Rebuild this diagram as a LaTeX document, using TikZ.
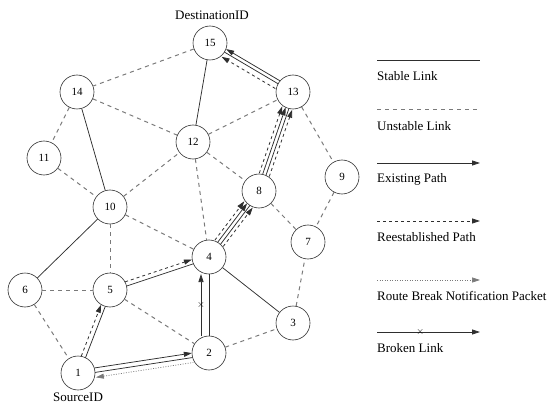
\documentclass[tikz,border=0pt]{standalone}
\usepackage{fontspec}
\setmainfont{Liberation Serif}
\usetikzlibrary{calc,arrows.meta}
\definecolor{netfg}{HTML}{2E2E2E}
\definecolor{netgray}{HTML}{7A7A7A}

% parallel link between two stations, shifted sideways by #4
\newcommand{\plink}[4][]{%
  \draw[#1] ($(#2)!17pt!(#3)!#4!90:(#3)$) -- ($(#3)!17pt!(#2)!#4!-90:(#2)$);}

\begin{document}
\begin{tikzpicture}[x=1pt,y=-1pt,>={Triangle[length=8pt,width=5pt]},font=\fontsize{13}{15}\selectfont]
  \tikzstyle{station}=[circle, draw=netfg, line width=0.6pt, minimum size=34pt, inner sep=0pt, fill=white, font=\fontsize{11}{12}\selectfont]
  \tikzstyle{stable}=[draw=netfg, line width=0.75pt]
  \tikzstyle{unstable}=[draw=netgray, line width=1pt, dash pattern=on 4pt off 4pt]
  \tikzstyle{existing}=[stable, ->]
  \tikzstyle{reest}=[draw=netfg, line width=0.8pt, dash pattern=on 3pt off 3pt, ->]
  \tikzstyle{notify}=[draw=netgray, line width=0.7pt, dash pattern=on 1pt off 1.5pt]
  \tikzstyle{cut}=[inner sep=0pt, font=\fontsize{10}{10}\selectfont]
  \tikzstyle{label}=[anchor=west, inner sep=0pt]

  \useasboundingbox (0,0) rectangle (551,406);

  \foreach \n/\x/\y in {15/210/43,14/77/92,13/293/92,12/193/142,11/44/158,9/342/177,
    8/259/191,10/110/207,7/308/242,4/209/257,6/25/290,5/110/290,3/293/323,2/209/353,1/78/373} {
    \node[station] (n\n) at (\x,\y) {\n};
  }
  \node (dest) at (212,15) {DestinationID};
  \node (src) at (78,397) {SourceID};

  \foreach \a/\b in {15/14,14/12,14/11,11/10,10/12,12/13,12/8,12/4,13/9,9/7,8/7,
    10/5,10/4,6/5,6/1,5/2,2/3,3/7} {
    \draw[unstable] (n\a) -- (n\b);
  }
  \foreach \a/\b in {15/12,14/10,10/6,4/3} {
    \draw[stable] (n\a) -- (n\b);
  }

  % source to 2 and on to 4
  \plink[existing]{n1}{n2}{2.5pt}
  \plink[stable]{n1}{n2}{-2pt}
  \plink[notify,<-]{n1}{n2}{-7pt}
  \plink[reest]{n1}{n5}{3pt}
  \plink[stable]{n1}{n5}{-1.5pt}
  \plink[reest]{n5}{n4}{3pt}
  \plink[stable]{n5}{n4}{-1.5pt}
  \draw[existing] ($(n2)!17pt!(n4)!8pt!90:(n4)$) --
    node[cut, pos=0.5] {$\times$}
    ($(n4)!17pt!(n2)!8pt!-90:(n2)$);
  \plink[stable]{n2}{n4}{0pt}
  % 4 to destination
  \plink[reest]{n4}{n8}{5.5pt}
  \plink[existing]{n4}{n8}{2pt}
  \plink[stable]{n4}{n8}{-1.5pt}
  \plink[reest]{n4}{n8}{-5pt}
  \plink[reest]{n8}{n13}{5.5pt}
  \plink[existing]{n8}{n13}{2pt}
  \plink[stable]{n8}{n13}{-1.5pt}
  \plink[reest]{n8}{n13}{-5pt}
  \plink[existing]{n13}{n15}{-3pt}
  \plink[stable]{n13}{n15}{0.5pt}
  \plink[reest]{n13}{n15}{6pt}

  % legend
  \foreach \i/\y/\sty/\txt in {1/60/stable/Stable Link,2/110/unstable/Unstable Link,
    3/163/existing/Existing Path,4/221/reest/Reestablished Path} {
    \coordinate (ls\i) at (377,\y);
    \coordinate (le\i) at (480,\y);
    \draw[\sty] (ls\i) -- (le\i);
    \node[label] (lt\i) at (377,\y+16) {\txt};
  }
  \coordinate (ls5) at (377,280);
  \coordinate (le5) at (480,280);
  \draw[notify,->] (ls5) -- (le5);
  \node[label] (lt5) at (377,296) {Route Break Notification Packet};
  \coordinate (ls6) at (377,332);
  \coordinate (le6) at (480,332);
  \draw[existing] (ls6) -- node[cut, pos=0.42] {$\times$} (le6);
  \node[label] (lt6) at (377,348) {Broken Link};
\end{tikzpicture}
\end{document}
